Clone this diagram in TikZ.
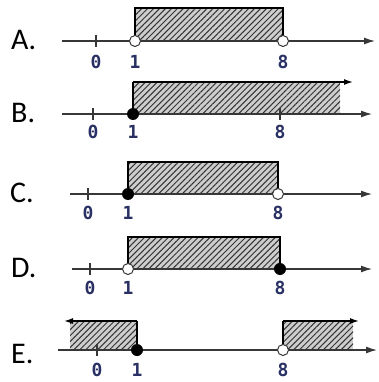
\documentclass[tikz,border=0pt]{standalone}
\usepackage{fontspec}
\setmainfont{Carlito}
\newfontfamily\digitfont{DejaVu Sans Mono Bold}
\usetikzlibrary{patterns.meta, arrows.meta}
\definecolor{colAxis}{RGB}{55,55,55}
\definecolor{colNum}{RGB}{40,48,100}
\definecolor{colHatch}{RGB}{205,205,205}

\begin{document}
\begin{tikzpicture}[
    x=1pt, y=-1pt,
    axis/.style={colAxis, line width=1.3pt, -{Latex[length=11pt, width=7pt]}},
    tickmark/.style={colAxis, line width=1.2pt},
    shade/.style={fill=colHatch, postaction={pattern={Lines[angle=45, distance=4.2pt, line width=1pt]}, pattern color=black!80}},
    edge/.style={black, line width=1.4pt},
    toparrow/.style={black, line width=1.4pt, -{Latex[length=9pt, width=6pt]}},
    opendot/.style={circle, draw=colAxis, fill=white, line width=1pt, inner sep=0pt, minimum size=11pt},
    filldot/.style={circle, fill=black, inner sep=0pt, minimum size=12pt},
    num/.style={font=\digitfont\fontsize{18}{18}\selectfont, text=colNum, inner sep=0pt},
    letter/.style={font=\fontsize{30}{30}\selectfont, anchor=west, inner sep=0pt},
  ]

  \useasboundingbox (0,0) rectangle (378,382);

  % ---- A: open at 1 and 8 ----------------------------------------------
  \node[letter] (lA) at (11,40) {A.};
  \fill[shade] (135,8) rectangle (283,41);
  \draw[edge] (135,41) -- (135,8) -- (283,8) -- (283,41);
  \draw[axis] (62,41) -- (375,41);
  \foreach \x in {96,135,283} \draw[tickmark] (\x,35) -- (\x,47);
  \node[opendot] (a1) at (135,41) {};
  \node[opendot] (a8) at (283,41) {};
  \node[num] (a0n) at (96,62) {0};
  \node[num] (a1n) at (135,62) {1};
  \node[num] (a8n) at (283,62) {8};

  % ---- B: closed at 1, open to the right --------------------------------
  \node[letter] (lB) at (11,113) {B.};
  \fill[shade] (133,82) rectangle (340,114);
  \draw[edge] (133,114) -- (133,82);
  \draw[toparrow] (133,82) -- (353,82);
  \draw[axis] (62,114) -- (372,114);
  \foreach \x in {93,133,280} \draw[tickmark] (\x,108) -- (\x,120);
  \node[filldot] (b1) at (133,114) {};
  \node[num] (b0n) at (93,132) {0};
  \node[num] (b1n) at (133,132) {1};
  \node[num] (b8n) at (280,132) {8};

  % ---- C: closed at 1, open at 8 ----------------------------------------
  \node[letter] (lC) at (10,193) {C.};
  \fill[shade] (128,162) rectangle (278,194);
  \draw[edge] (128,194) -- (128,162) -- (278,162) -- (278,194);
  \draw[axis] (70,194) -- (372,194);
  \foreach \x in {88,128,278} \draw[tickmark] (\x,188) -- (\x,200);
  \node[filldot] (c1) at (128,194) {};
  \node[opendot] (c8) at (278,194) {};
  \node[num] (c0n) at (88,213) {0};
  \node[num] (c1n) at (128,213) {1};
  \node[num] (c8n) at (278,213) {8};

  % ---- D: open at 1, closed at 8 ----------------------------------------
  \node[letter] (lD) at (11,268) {D.};
  \fill[shade] (128,237) rectangle (280,269);
  \draw[edge] (128,269) -- (128,237) -- (280,237) -- (280,269);
  \draw[axis] (72,269) -- (372,269);
  \foreach \x in {90,128,280} \draw[tickmark] (\x,263) -- (\x,275);
  \node[opendot] (d1) at (128,269) {};
  \node[filldot] (d8) at (280,269) {};
  \node[num] (d0n) at (90,288) {0};
  \node[num] (d1n) at (128,288) {1};
  \node[num] (d8n) at (280,288) {8};

  % ---- E: two rays, closed at 1, open at 8 ------------------------------
  \node[letter] (lE) at (11,354) {E.};
  \fill[shade] (70,321) rectangle (137,350);
  \fill[shade] (283,321) rectangle (353,350);
  \draw[edge] (137,350) -- (137,321);
  \draw[toparrow] (137,321) -- (64,321);
  \draw[edge] (283,350) -- (283,321);
  \draw[toparrow] (283,321) -- (359,321);
  \draw[axis] (58,350) -- (377,350);
  \foreach \x in {97,137,283} \draw[tickmark] (\x,344) -- (\x,356);
  \node[filldot] (e1) at (137,350) {};
  \node[opendot] (e8) at (283,350) {};
  \node[num] (e0n) at (97,370) {0};
  \node[num] (e1n) at (137,370) {1};
  \node[num] (e8n) at (283,370) {8};

\end{tikzpicture}
\end{document}
